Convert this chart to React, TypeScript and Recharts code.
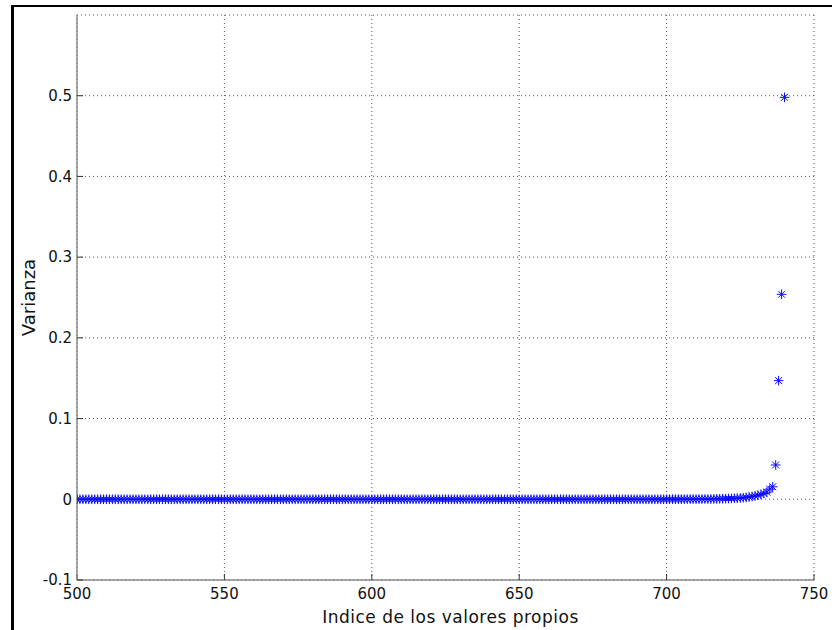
import React from 'react';
import { ScatterChart, Scatter, XAxis, YAxis, CartesianGrid } from 'recharts';

// eigenvalue index starts at 500, one value per index (500..740)
const START_INDEX = 500;

const varianza = [
  0, 0, 0, 0, 0, 0, 0, 0, 0, 0,
  0, 0, 0, 0, 0, 0, 0, 0, 0, 0,
  0, 0, 0, 0, 0, 0, 0, 0, 0, 0,
  0, 0, 0, 0, 0, 0, 0, 0, 0, 0,
  0, 0, 0, 0, 0, 0, 0, 0, 0, 0,
  0, 0, 0, 0, 0, 0, 0, 0, 0, 0,
  0, 0, 0, 0, 0, 0, 0, 0, 0, 0,
  0, 0, 0, 0, 0, 0, 0, 0, 0, 0,
  0, 0, 0, 0, 0, 0, 0, 0, 0, 0,
  0, 0, 0, 0, 0, 0, 0, 0, 0, 0,
  0, 0, 0, 0, 0, 0, 0, 0, 0, 0,
  0, 0, 0, 0, 0, 0, 0, 0, 0, 0,
  0, 0, 0, 0, 0, 0, 0, 0, 0, 0,
  0, 0, 0, 0, 0, 0, 0, 0, 0, 0,
  0, 0, 0, 0, 0, 0, 0, 0, 0, 0,
  0, 0, 0, 0, 0, 0, 0, 0, 0, 0,
  0, 0, 0, 0, 0, 0, 0, 0, 0, 0,
  0, 0, 0, 0, 0, 0, 0, 0, 0, 0,
  0, 0, 0, 0, 0, 0, 0, 0, 0, 0,
  0, 0, 0, 0, 0, 0, 0, 0, 0, 0,
  0.0001, 0.0001, 0.0001, 0.0001, 0.0001, 0.0001, 0.0002, 0.0002, 0.0002, 0.0002,
  0.0002, 0.0002, 0.0003, 0.0003, 0.0003, 0.0003, 0.0004, 0.0005, 0.0006, 0.0007,
  0.0008, 0.0009, 0.001, 0.0012, 0.0014, 0.0016, 0.0019, 0.0023, 0.0028, 0.0035,
  0.0042, 0.005, 0.006, 0.0072, 0.0088, 0.0125, 0.0155, 0.0425, 0.147, 0.254,
  0.498,
];

const xTicks = [500, 550, 600, 650, 700, 750];
const yTicks = [-0.1, 0, 0.1, 0.2, 0.3, 0.4, 0.5];

const points = varianza.map((v, i) => ({ x: START_INDEX + i, y: v }));

const AXIS = '#8a8a8a';
const FONT = 'DejaVu Sans, Verdana, sans-serif';
const tickStyle = { fontFamily: FONT, fontSize: 15, fill: '#111' };

// matlab '*' marker
const Star = (props: any) => {
  const { cx, cy } = props;
  const r = 4.8;
  const d = r * 0.72;
  return (
    <g stroke="#0a0aff" strokeWidth={1}>
      <line x1={cx - r} y1={cy} x2={cx + r} y2={cy} />
      <line x1={cx} y1={cy - r} x2={cx} y2={cy + r} />
      <line x1={cx - d} y1={cy - d} x2={cx + d} y2={cy + d} />
      <line x1={cx - d} y1={cy + d} x2={cx + d} y2={cy - d} />
    </g>
  );
};

export default function App() {
  return (
    <div
      style={{
        position: 'absolute',
        left: 0,
        top: 0,
        width: 832,
        height: 630,
        overflow: 'hidden',
        background: '#fff',
      }}
    >
      {/* figure frame */}
      <div
        style={{
          position: 'absolute',
          left: 11,
          top: 5,
          width: 860,
          height: 660,
          borderLeft: '3px solid #000',
          borderTop: '2px solid #000',
        }}
      />
      <div style={{ position: 'absolute', left: 0, top: 0 }}>
        <ScatterChart width={832} height={630} margin={{ top: 15, right: 18, bottom: 20, left: 17 }}>
          <CartesianGrid stroke="#555" strokeDasharray="1 3" />
          <XAxis
            type="number"
            dataKey="x"
            domain={[500, 750]}
            ticks={xTicks}
            height={30}
            allowDataOverflow
            axisLine={{ stroke: AXIS, strokeWidth: 1.5 }}
            tickLine={{ stroke: '#333' }}
            tickSize={-6}
            tickMargin={14}
            tick={tickStyle}
            label={{
              value: 'Indice de los valores propios',
              position: 'insideBottom',
              offset: -13,
              dx: 5,
              style: { fontFamily: FONT, fontSize: 17, letterSpacing: 0.5, fill: '#111' },
            }}
          />
          <XAxis
            xAxisId="top"
            orientation="top"
            type="number"
            domain={[500, 750]}
            ticks={xTicks}
            height={0}
            allowDataOverflow
            axisLine={{ stroke: AXIS, strokeWidth: 1.5 }}
            tickLine={{ stroke: '#333' }}
            tickSize={-6}
            tick={false}
          />
          <YAxis
            type="number"
            dataKey="y"
            domain={[-0.1, 0.6]}
            ticks={yTicks}
            width={60}
            allowDataOverflow
            axisLine={{ stroke: AXIS, strokeWidth: 1.5 }}
            tickLine={{ stroke: '#333' }}
            tickSize={-6}
            tickMargin={11}
            tick={tickStyle}
            label={{
              value: 'Varianza',
              angle: -90,
              position: 'insideLeft',
              offset: 12,
              style: { fontFamily: FONT, fontSize: 18, fill: '#111', textAnchor: 'middle' },
            }}
          />
          <YAxis
            yAxisId="right"
            orientation="right"
            type="number"
            domain={[-0.1, 0.6]}
            ticks={yTicks}
            width={0}
            allowDataOverflow
            axisLine={{ stroke: AXIS, strokeWidth: 1.5 }}
            tickLine={{ stroke: '#333' }}
            tickSize={-6}
            tick={false}
          />
          <Scatter data={points} shape={<Star />} isAnimationActive={false} />
        </ScatterChart>
      </div>
    </div>
  );
}
